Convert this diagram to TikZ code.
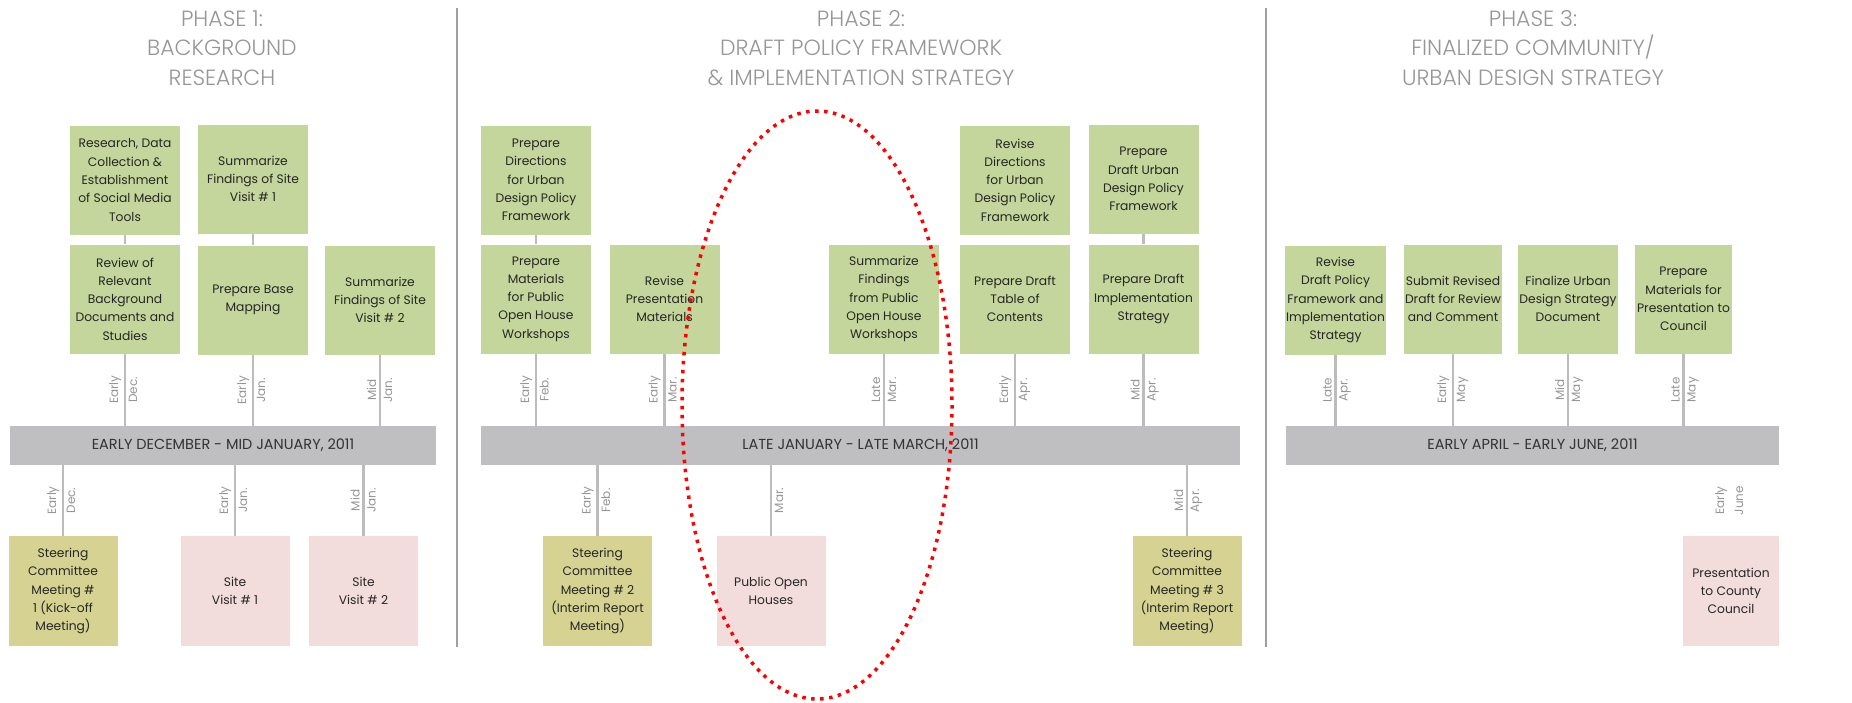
\documentclass[tikz,border=0pt]{standalone}
\usepackage{fontspec}
\setmainfont{Poppins}
\IfFontExistsTF{Poppins Light}{\newfontfamily\titlefont{Poppins Light}}{\newfontfamily\titlefont{Poppins}}
\usepackage{xcolor}
\usepackage{tikz}
\usetikzlibrary{positioning}

\definecolor{taskgreen}{RGB}{196,214,155}
\definecolor{meetyellow}{RGB}{214,211,146}
\definecolor{visitpink}{RGB}{242,221,220}
\definecolor{bargray}{RGB}{191,190,192}
\definecolor{stemgray}{RGB}{188,188,188}
\definecolor{titlegray}{RGB}{150,150,150}
\definecolor{divgray}{RGB}{160,160,160}

\begin{document}
\begin{tikzpicture}[x=1pt,y=-1pt,
	boxtext/.style={align=center,inner sep=1pt,text=black!85,font=\fontsize{12.3}{18.3}\selectfont},
	task/.style={boxtext,fill=taskgreen,minimum width=110pt,minimum height=109pt},
	meeting/.style={boxtext,fill=meetyellow,minimum width=109pt,minimum height=110pt},
	visit/.style={boxtext,fill=visitpink,minimum width=109pt,minimum height=110pt},
	phasebar/.style={fill=bargray,minimum width=426pt,minimum height=39pt,inner sep=0pt,text=black!80,font=\fontsize{14.5}{16}\selectfont},
	phasetitle/.style={align=center,text=titlegray,font=\titlefont\fontsize{22}{29.5}\selectfont},
	stem/.style={stemgray,line width=2.5pt},
	datelbl/.style={rotate=90,inner sep=2pt,text=titlegray,font=\fontsize{12}{14}\selectfont},
	divider/.style={divgray,line width=1.8pt}]
		\useasboundingbox (0,0) rectangle (1852,702);

		\node[phasetitle] (titleone) at (222,48) {PHASE 1:\\BACKGROUND\\RESEARCH};
		\node[phasetitle] (titletwo) at (861,48) {PHASE 2:\\DRAFT POLICY FRAMEWORK\\\& IMPLEMENTATION STRATEGY};
		\node[phasetitle] (titlethree) at (1533,48) {PHASE 3:\\FINALIZED COMMUNITY/\\URBAN DESIGN STRATEGY};

		\draw[divider] (457,8) -- (457,647);
		\draw[divider] (1266,8) -- (1266,647);

		\node[task] (research) at (125,180) {Research, Data\\Collection \&\\Establishment\\of Social Media\\Tools};
		\node[task] (sumone) at (253,179) {Summarize\\Findings of Site\\Visit \# 1};
		\node[task] (review) at (125,299) {Review of\\Relevant\\Background\\Documents and\\Studies};
		\node[task] (basemap) at (253,300) {Prepare Base\\Mapping};
		\node[task] (sumtwo) at (380,300) {Summarize\\Findings of Site\\Visit \# 2};
		\node[phasebar] (barone) at (223,445.5) {EARLY DECEMBER - MID JANUARY, 2011};
		\node[meeting] (steerone) at (63,591) {Steering\\Committee\\Meeting \#\\1 (Kick-off\\Meeting)};
		\node[visit] (siteone) at (235,591) {Site\\Visit \# 1};
		\node[visit] (sitetwo) at (363.5,591) {Site\\Visit \# 2};

		\node[task] (prepdir) at (536,180) {Prepare\\Directions\\for Urban\\Design Policy\\Framework};
		\node[task] (prepmat) at (536,299) {Prepare\\Materials\\for Public\\Open House\\Workshops};
		\node[task] (revpres) at (664.5,299) {Revise\\Presentation\\Materials};
		\node[task] (sumfind) at (884,299) {Summarize\\Findings\\from Public\\Open House\\Workshops};
		\node[task] (revdir) at (1015,180) {Revise\\Directions\\for Urban\\Design Policy\\Framework};
		\node[task] (draftfw) at (1143.5,179) {Prepare\\Draft Urban\\Design Policy\\Framework};
		\node[task] (toc) at (1015,299) {Prepare Draft\\Table of\\Contents};
		\node[task] (draftimpl) at (1143.5,299) {Prepare Draft\\Implementation\\Strategy};
		\node[phasebar,minimum width=759pt] (bartwo) at (860.5,445.5) {LATE JANUARY - LATE MARCH, 2011};
		\node[meeting] (steertwo) at (597.5,591) {Steering\\Committee\\Meeting \# 2\\(Interim Report\\Meeting)};
		\node[visit] (pubopen) at (771,591) {Public Open\\Houses};
		\node[meeting] (steerthree) at (1187,591) {Steering\\Committee\\Meeting \# 3\\(Interim Report\\Meeting)};

		\node[task,minimum width=97pt] (revdraft) at (1335.5,300) {Revise\\Draft Policy\\Framework and\\Implementation\\Strategy};
		\node[task,minimum width=98pt] (submit) at (1453,299) {Submit Revised\\Draft for Review\\and Comment};
		\node[task,minimum width=96pt] (finalize) at (1568,299) {Finalize Urban\\Design Strategy\\Document};
		\node[task,minimum width=97pt] (prepcouncil) at (1683.5,299) {Prepare\\Materials for\\Presentation to\\Council};
		\node[phasebar,minimum width=493pt] (barthree) at (1532.5,445.5) {EARLY APRIL - EARLY JUNE, 2011};
		\node[visit,minimum width=96pt] (council) at (1731,591) {Presentation\\to County\\Council};

		\draw[stem] (research.south) -- (review.north);
		\draw[stem] (sumone.south) -- (basemap.north);
		\draw[stem] (prepdir.south) -- (prepmat.north);
		\draw[stem] (draftfw.south) -- (draftimpl.north);

		\foreach \b/\r/\ta/\tb in {review/barone/Early/Dec., basemap/barone/Early/Jan., sumtwo/barone/Mid/Jan.,
			prepmat/bartwo/Early/Feb., revpres/bartwo/Early/Mar., sumfind/bartwo/Late/Mar., toc/bartwo/Early/Apr., draftimpl/bartwo/Mid/Apr.,
			revdraft/barthree/Late/Apr., submit/barthree/Early/May, finalize/barthree/Mid/May, prepcouncil/barthree/Late/May}{
			\draw[stem] (\b.south) -- (\b.south |- \r.north) coordinate[midway] (m);
			\node[datelbl,anchor=south] at ([xshift=-1.5pt]m) {\ta};
			\node[datelbl,anchor=north] at ([xshift=1.5pt]m) {\tb};
		}

		\foreach \b/\r/\ta/\tb in {steerone/barone/Early/Dec., siteone/barone/Early/Jan., sitetwo/barone/Mid/Jan.,
			steertwo/bartwo/Early/Feb., pubopen/bartwo//Mar., steerthree/bartwo/Mid/Apr.}{
			\draw[stem] (\r.south -| \b.north) -- (\b.north) coordinate[midway] (m);
			\node[datelbl,anchor=south] at ([xshift=-1.5pt]m) {\ta};
			\node[datelbl,anchor=north] at ([xshift=1.5pt]m) {\tb};
		}

		\path (barthree.south -| council.north) -- (council.north) coordinate[midway] (jun);
		\node[datelbl,anchor=south] at ([xshift=-1.5pt]jun) {Early};
		\node[datelbl,anchor=north] at ([xshift=1.5pt]jun) {June};

		\draw[red,line width=3.5pt,dash pattern=on 3.5pt off 5.5pt] (817,405) ellipse [x radius=135,y radius=294];
	\end{tikzpicture}
\end{document}
